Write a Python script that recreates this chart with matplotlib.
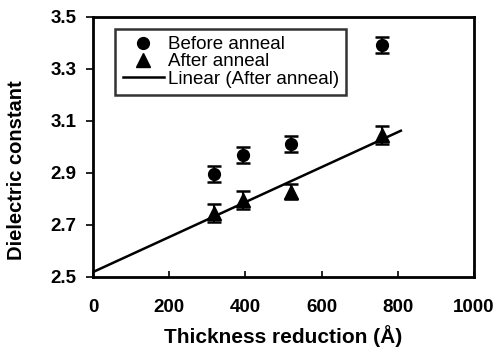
import numpy as np
import matplotlib.pyplot as plt

plt.rcParams['font.family'] = ['Liberation Sans', 'DejaVu Sans']

thickness = [317, 395, 520, 758]
before_anneal = [2.895, 2.968, 3.012, 3.392]
after_anneal = [2.745, 2.795, 2.828, 3.045]
err_before = [0.03, 0.03, 0.03, 0.03]
err_after = [0.035, 0.035, 0.03, 0.035]

fig = plt.figure(figsize=(5, 3.56), dpi=100)
ax = fig.add_axes([0.186, 0.222, 0.762, 0.731])

# error bars first, markers on top (so legend shows plain markers)
ax.errorbar(thickness, before_anneal, yerr=err_before, fmt='none', ecolor='black',
            capsize=5, capthick=1.8, elinewidth=1.5)
ax.errorbar(thickness, after_anneal, yerr=err_after, fmt='none', ecolor='black',
            capsize=5, capthick=1.8, elinewidth=1.5)
ax.plot(thickness, before_anneal, 'o', color='black', markersize=8.5, label='Before anneal')
ax.plot(thickness, after_anneal, '^', color='black', markersize=10, label='After anneal')

# linear trendline through the after-anneal points
slope, icpt = np.polyfit(thickness, after_anneal, 1)
xs = np.array([0, 808])
ax.plot(xs, slope * xs + icpt, color='black', lw=1.8, label='Linear (After anneal)')

ax.set_xlim(0, 1000)
ax.set_ylim(2.5, 3.5)
ax.set_xticks([0, 200, 400, 600, 800, 1000])
ax.set_yticks([2.5, 2.7, 2.9, 3.1, 3.3, 3.5])
ax.set_yticklabels(['2.5', '2.7', '2.9', '3.1', '3.3', '3.5'])
ax.tick_params(axis='x', direction='in', length=4, width=1.2, pad=16, labelsize=13.5)
ax.tick_params(axis='y', direction='out', length=5, width=1.2, pad=7, labelsize=13.5)
for lbl in ax.get_xticklabels() + ax.get_yticklabels():
    lbl.set_fontweight('bold')
for sp in ax.spines.values():
    sp.set_linewidth(2)

ax.set_xlabel('Thickness reduction (Å)', fontsize=15, fontweight='bold', labelpad=6)
ax.set_ylabel('Dielectric constant', fontsize=14.5, fontweight='bold')
ax.yaxis.set_label_coords(-0.175, 0.41)

leg = ax.legend(loc='upper left', bbox_to_anchor=(0.058, 0.954),
                fontsize=13.5, frameon=True, fancybox=False, edgecolor='black',
                borderpad=0.4, labelspacing=0.0, handlelength=2.2, handletextpad=0.2,
                borderaxespad=0)
leg.get_frame().set_linewidth(1.8)

fig.savefig('out.png', dpi=100)
